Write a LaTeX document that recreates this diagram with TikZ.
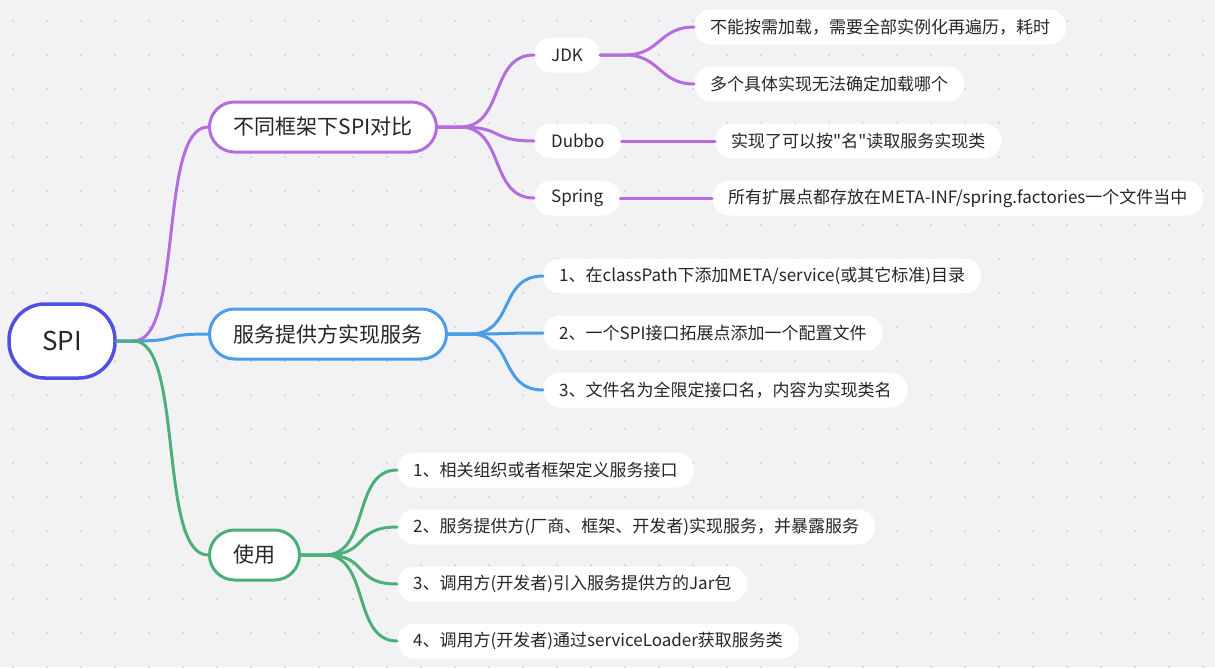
\documentclass[tikz,border=0pt]{standalone}
\usepackage{fontspec}
\newfontfamily\cjk{Noto Sans CJK SC}
\definecolor{bgc}{HTML}{F2F2F5}
\definecolor{dotc}{HTML}{C8C8CE}
\definecolor{rootc}{HTML}{5050E2}
\definecolor{purp}{HTML}{B56CDD}
\definecolor{blu}{HTML}{4A9EE8}
\definecolor{grn}{HTML}{4CAF7A}
\definecolor{txt}{HTML}{262626}
\tikzset{
  rootbox/.style={draw=rootc, line width=3.5pt, fill=white, text=txt, rounded corners=36pt, minimum width=106pt, minimum height=74pt, font=\cjk\fontsize{26}{30}\selectfont},
  topicbox/.style={fill=white, text=txt, line width=3pt, rounded corners=25pt, minimum height=50pt, inner xsep=24pt, font=\cjk\fontsize{21}{25}\selectfont},
  subbox/.style={fill=white, text=txt, rounded corners=17pt, minimum height=35pt, inner xsep=17pt, font=\cjk\fontsize{17}{20}\selectfont},
  leafbox/.style={fill=white, text=txt, rounded corners=17pt, minimum height=35pt, inner xsep=16pt, font=\cjk\fontsize{17}{20}\selectfont},
  link/.style={line width=3pt, line cap=round},
}
\begin{document}
\begin{tikzpicture}[x=1pt,y=-1pt]

\def \handle{45}

\fill[bgc] (0,0) rectangle (1215,667);
\useasboundingbox (0,0) rectangle (1215,667);
\foreach \x in {13,47,...,1215}{
\foreach \y in {21,55,...,667}{
\fill[dotc] (\x,\y) circle (1pt);
}
}

\node[rootbox] (spi) at (62,341) {SPI};

\node[topicbox, draw=purp, anchor=west] (compare) at (208,127) {不同框架下SPI对比};
\node[topicbox, draw=blu, anchor=west] (provider) at (208,334) {服务提供方实现服务};
\node[topicbox, draw=grn, anchor=west] (usage) at (208,555) {使用};

\node[subbox, anchor=west] (jdk) at (534,55) {JDK};
\node[subbox, anchor=west] (dubbo) at (534,141) {Dubbo};
\node[subbox, anchor=west] (spring) at (534,198) {Spring};

\node[leafbox, anchor=west] (jdka) at (694,27) {不能按需加载，需要全部实例化再遍历，耗时};
\node[leafbox, anchor=west] (jdkb) at (694,84) {多个具体实现无法确定加载哪个};
\node[leafbox, anchor=west] (dubboa) at (715,141) {实现了可以按"名"读取服务实现类};
\node[leafbox, anchor=west] (springa) at (712,198) {所有扩展点都存放在META-INF/spring.factories一个文件当中};

\node[leafbox, anchor=west] (prova) at (543,276) {1、在classPath下添加META/service(或其它标准)目录};
\node[leafbox, anchor=west] (provb) at (543,333) {2、一个SPI接口拓展点添加一个配置文件};
\node[leafbox, anchor=west] (provc) at (543,390) {3、文件名为全限定接口名，内容为实现类名};

\node[leafbox, anchor=west] (usea) at (397,470) {1、相关组织或者框架定义服务接口};
\node[leafbox, anchor=west] (useb) at (397,527) {2、服务提供方(厂商、框架、开发者)实现服务，并暴露服务};
\node[leafbox, anchor=west] (usec) at (397,584) {3、调用方(开发者)引入服务提供方的Jar包};
\node[leafbox, anchor=west] (used) at (397,641) {4、调用方(开发者)通过serviceLoader获取服务类};

\draw[link, purp] (spi.east) -- ++(17,0) .. controls +(50,0) and +(-50,0) .. (compare.west);
\draw[link, blu] (spi.east) -- ++(17,0) .. controls +(50,0) and +(-50,0) .. (provider.west);
\draw[link, grn] (spi.east) -- ++(17,0) .. controls +(50,0) and +(-50,0) .. (usage.west);

\foreach \n in {jdk, dubbo, spring}{
\draw[link, purp] (compare.east) -- ++(22,0) .. controls +(\handle,0) and +(-\handle,0) .. (\n.west);
}
\foreach \n in {jdka, jdkb}{
\draw[link, purp] (jdk.east) -- ++(25,0) .. controls +(35,0) and +(-35,0) .. (\n.west);
}
\draw[link, purp] (dubbo.east) -- (dubboa.west);
\draw[link, purp] (spring.east) -- (springa.west);

\foreach \n in {prova, provb, provc}{
\draw[link, blu] (provider.east) -- ++(22,0) .. controls +(\handle,0) and +(-\handle,0) .. (\n.west);
}

\foreach \n in {usea, useb, usec, used}{
\draw[link, grn] (usage.east) -- ++(24,0) .. controls +(\handle,0) and +(-\handle,0) .. (\n.west);
}

\end{tikzpicture}
\end{document}
